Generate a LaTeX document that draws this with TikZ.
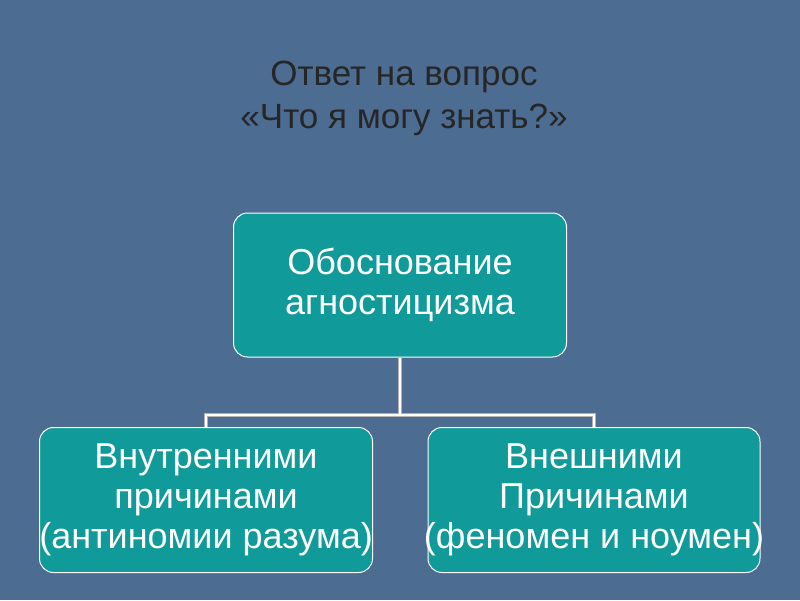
\documentclass[tikz,border=0pt]{standalone}
\usepackage{fontspec}
\setmainfont{Liberation Sans}
\definecolor{bg}{HTML}{4C6C92}
\definecolor{teal}{HTML}{109A9A}
\begin{document}
\begin{tikzpicture}[x=1pt,y=-1pt,
  box/.style={draw=white,line width=1pt,fill=teal,rounded corners=14pt,inner sep=0pt},
  boxtext/.style={text=white,align=center,font=\fontsize{36}{40}\selectfont,inner sep=0pt}]
\fill[bg] (0,0) rectangle (800,600);
\useasboundingbox (0,0) rectangle (800,600);
\node[align=center,font=\fontsize{35}{43}\selectfont,text=black!85] (title) at (404,98) {Ответ на вопрос\\ «Что я могу знать?»};
\node[box,minimum width=333pt,minimum height=144pt] (top) at (400,285) {};
\node[boxtext] (topt) at (top.center) {Обоснование\\агностицизма};
\node[box,minimum width=333pt,minimum height=145pt] (l) at (206,500) {};
\node[boxtext] (lt) at (l.center) {Внутренними\\причинами\\(антиномии разума)};
\node[box,minimum width=332pt,minimum height=145pt] (r) at (594,500) {};
\node[boxtext] (rt) at (r.center) {Внешними\\Причинами\\(феномен и ноумен)};
\coordinate (j) at (400,415);
\draw[draw=gray!60,line width=4.5pt] (top.south) -- (j) (l.north) |- (j) -| (r.north);
\draw[draw=white,line width=2.5pt] (top.south) -- (j) (l.north) |- (j) -| (r.north);
\end{tikzpicture}
\end{document}
